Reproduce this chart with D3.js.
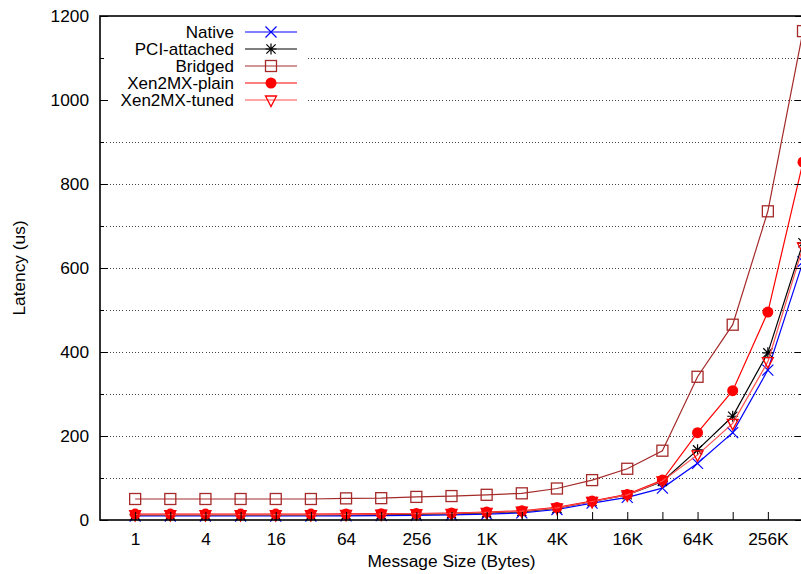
<!DOCTYPE html>
<html>
<head>
<meta charset="utf-8">
<script src="https://cdn.jsdelivr.net/npm/d3@7"></script>
<style>
  html, body { margin: 0; padding: 0; background: #fff; }
  svg { display: block; font-family: "Liberation Sans", Arial, Helvetica, sans-serif; }
</style>
</head>
<body>
<svg id="chart" width="801" height="574"></svg>
<script>
// Message sizes (bytes), powers of two from 1 B to 512 KB
const sizes = [1, 2, 4, 8, 16, 32, 64, 128, 256, 512, 1024, 2048, 4096, 8192,
  16384, 32768, 65536, 131072, 262144, 524288];

// Latency in microseconds per configuration
const native = [9.5, 9.5, 9.5, 9.5, 9.5, 9.5, 10, 10.5, 11, 12, 14, 17, 25, 40, 54, 76, 135, 208, 357, 615];
const pciAttached = [12, 12, 12, 12, 12, 12, 12.5, 13, 14, 15, 17, 20, 28, 44, 60, 92, 167, 247, 398, 660];
const bridged = [50, 50, 50, 50, 50, 50, 51.5, 52, 55, 57, 60, 63.5, 75, 95, 122, 165, 341, 465, 735, 1164];
const xenPlain = [14, 14, 14, 14, 14, 14, 14.5, 15, 15.5, 16.5, 19, 22, 30, 45, 61, 95, 208, 308, 495, 852];
const xenTuned = [13, 13, 13, 13, 13, 13, 13.5, 14, 15, 16, 18, 21, 29, 44, 60, 93, 155, 230, 377, 650];

const seriesNames = ["Native", "PCI-attached", "Bridged", "Xen2MX-plain", "Xen2MX-tuned"];

// Axis ticks
const xTickValues = [1, 2, 4, 8, 16, 32, 64, 128, 256, 512, 1024, 2048, 4096, 8192,
  16384, 32768, 65536, 131072, 262144];
const xTickLabels = ["1", "4", "16", "64", "256", "1K", "4K", "16K", "64K", "256K"];
const yMajorTicks = [0, 200, 400, 600, 800, 1000, 1200];
const yMinorTicks = [100, 300, 500, 700, 900, 1100];

const series = [
  { name: seriesNames[0], values: native,      line: "#0000ff", mark: "#0000ff", shape: "x" },
  { name: seriesNames[1], values: pciAttached, line: "#000000", mark: "#000000", shape: "star" },
  { name: seriesNames[2], values: bridged,     line: "#a52a2a", mark: "#a52a2a", shape: "square" },
  { name: seriesNames[3], values: xenPlain,    line: "#ff0000", mark: "#ff0000", shape: "circle" },
  { name: seriesNames[4], values: xenTuned,    line: "#ff5050", mark: "#ff0000", shape: "tri" }
];

const plotLeft = 100, plotRight = 803, plotTop = 16, plotBottom = 520;
const svg = d3.select("#chart");

const x = d3.scaleLog().base(2).domain([0.5, 524288]).range([plotLeft, plotRight]);
const y = d3.scaleLinear().domain([0, 1200]).range([plotBottom, plotTop]);

// Horizontal dotted grid at every 100 us
const gridVals = yMajorTicks.concat(yMinorTicks).filter(v => v > 0 && v < 1200);
svg.append("g").selectAll("line").data(gridVals).join("line")
  .attr("x1", plotLeft).attr("x2", plotRight)
  .attr("y1", d => y(d)).attr("y2", d => y(d))
  .attr("stroke", "#444").attr("stroke-width", 1)
  .attr("stroke-dasharray", "1,2.2")
  .attr("shape-rendering", "crispEdges");

// Legend background (opaque key box)
svg.append("rect")
  .attr("x", plotLeft + 4).attr("y", plotTop + 2)
  .attr("width", 202).attr("height", 92)
  .attr("fill", "#fff");

// Marker drawing helper
function drawMarker(g, shape, color) {
  const s = 5.5;
  if (shape === "x") {
    g.append("path").attr("d", `M${-s},${-s}L${s},${s}M${-s},${s}L${s},${-s}`)
      .attr("stroke", color).attr("stroke-width", 1.2).attr("fill", "none");
  } else if (shape === "star") {
    const d = 4.6;
    g.append("path").attr("d", `M${-d},${-d}L${d},${d}M${-d},${d}L${d},${-d}M0,${-s}L0,${s}M${-s},0L${s},0`)
      .attr("stroke", color).attr("stroke-width", 1.2).attr("fill", "none");
  } else if (shape === "square") {
    g.append("rect").attr("x", -s).attr("y", -s).attr("width", 2 * s).attr("height", 2 * s)
      .attr("stroke", color).attr("stroke-width", 1.3).attr("fill", "none");
  } else if (shape === "circle") {
    g.append("circle").attr("r", s).attr("fill", color);
  } else if (shape === "tri") {
    g.append("path").attr("d", `M${-s},${-s + 1.5}L${s},${-s + 1.5}L0,${s + 1}Z`)
      .attr("stroke", color).attr("stroke-width", 1.3).attr("fill", "none");
  }
}

// Data lines and markers
const lineGen = d3.line().x((d, i) => x(sizes[i])).y(d => y(d));
series.forEach(s => {
  const g = svg.append("g");
  g.append("path").datum(s.values)
    .attr("d", lineGen)
    .attr("fill", "none").attr("stroke", s.line).attr("stroke-width", 1.2);
  s.values.forEach((v, i) => {
    const m = g.append("g").attr("transform", `translate(${x(sizes[i])},${y(v)})`);
    drawMarker(m, s.shape, s.mark);
  });
});

// Bottom axis: ticks at every power of two, labels at powers of four
let labelIdx = 0;
const xLabelMap = new Map();
xTickValues.forEach((v, i) => { if (i % 2 === 0) xLabelMap.set(v, xTickLabels[labelIdx++]); });
const xAxis = d3.axisBottom(x).tickValues(xTickValues)
  .tickFormat(d => xLabelMap.get(d) || "")
  .tickSizeInner(-8).tickSizeOuter(0).tickPadding(13);
const gx = svg.append("g").attr("transform", `translate(0,${plotBottom})`).call(xAxis);
gx.select(".domain").remove();
gx.selectAll("line").attr("stroke", "#000").attr("stroke-width", 1);
gx.selectAll("text").attr("font-size", 17.3).attr("fill", "#000")
  .attr("font-family", "Liberation Sans, Arial, sans-serif");

// Left axis: major with labels, minor unlabeled
const yAxis = d3.axisLeft(y).tickValues(yMajorTicks).tickFormat(d3.format("d"))
  .tickSizeInner(-8).tickSizeOuter(0).tickPadding(11);
const gy = svg.append("g").attr("transform", `translate(${plotLeft},0)`).call(yAxis);
gy.select(".domain").remove();
gy.selectAll("line").attr("stroke", "#000").attr("stroke-width", 1);
gy.selectAll("text").attr("font-size", 17.3).attr("fill", "#000")
  .attr("font-family", "Liberation Sans, Arial, sans-serif");

const yMinor = d3.axisLeft(y).tickValues(yMinorTicks).tickSizeInner(-4).tickSizeOuter(0).tickFormat("");
const gym = svg.append("g").attr("transform", `translate(${plotLeft},0)`).call(yMinor);
gym.select(".domain").remove();
gym.selectAll("line").attr("stroke", "#000");

// Mirrored right-hand ticks
const yRight = d3.axisRight(y).tickValues(yMajorTicks).tickSizeInner(-8).tickSizeOuter(0).tickFormat("");
const gyr = svg.append("g").attr("transform", `translate(${plotRight},0)`).call(yRight);
gyr.select(".domain").remove();
gyr.selectAll("line").attr("stroke", "#000");
const yRightMinor = d3.axisRight(y).tickValues(yMinorTicks).tickSizeInner(-4).tickSizeOuter(0).tickFormat("");
const gyrm = svg.append("g").attr("transform", `translate(${plotRight},0)`).call(yRightMinor);
gyrm.select(".domain").remove();
gyrm.selectAll("line").attr("stroke", "#000");

// Plot border
svg.append("rect")
  .attr("x", plotLeft).attr("y", plotTop).attr("width", plotRight - plotLeft).attr("height", plotBottom - plotTop)
  .attr("fill", "none").attr("stroke", "#000").attr("stroke-width", 1.6);

// Legend entries
const legend = svg.append("g");
series.forEach((s, i) => {
  const ly = 32 + i * 17;
  legend.append("text").attr("x", 234).attr("y", ly).attr("dy", "0.35em")
    .attr("text-anchor", "end").attr("font-size", 17).attr("fill", "#000")
    .text(s.name);
  legend.append("line").attr("x1", 245).attr("x2", 297).attr("y1", ly).attr("y2", ly)
    .attr("stroke", s.line).attr("stroke-width", 1.2);
  const m = legend.append("g").attr("transform", `translate(271,${ly})`);
  drawMarker(m, s.shape, s.mark);
});

// Axis titles
svg.append("text").attr("x", (plotLeft + plotRight) / 2).attr("y", 567)
  .attr("text-anchor", "middle").attr("font-size", 17.3).attr("fill", "#000")
  .text("Message Size (Bytes)");
svg.append("text")
  .attr("transform", `translate(25,${(plotTop + plotBottom) / 2}) rotate(-90)`)
  .attr("text-anchor", "middle").attr("font-size", 17.3).attr("fill", "#000")
  .text("Latency (us)");
</script>
</body>
</html>
